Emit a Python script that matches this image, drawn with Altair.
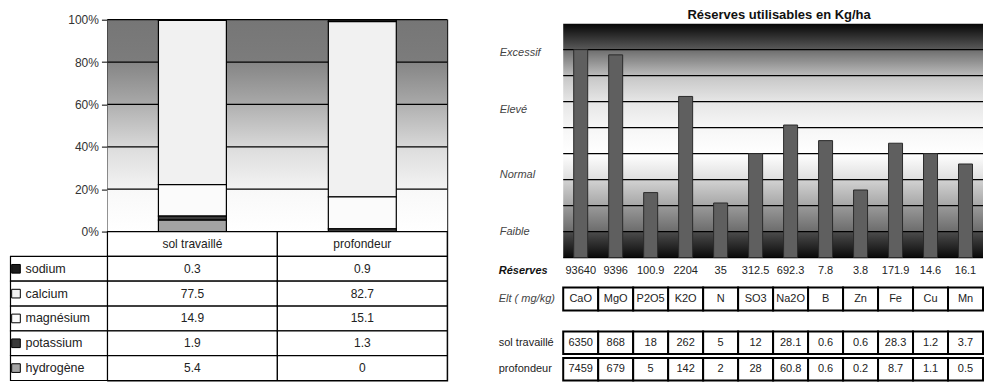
import altair as alt
import pandas as pd

FONT = "Liberation Sans"

# ---------------------------------------------------------------- data
# Base cation shares (% of the exchange complex) for the two horizons
samples = ["sol travaillé", "profondeur"]
cations = ["sodium", "calcium", "magnésium", "potassium", "hydrogène"]
sol_travaille = [0.3, 77.5, 14.9, 1.9, 5.4]
profondeur = [0.9, 82.7, 15.1, 1.3, 0]
pct_ticks = [0, 20, 40, 60, 80, 100]

# Usable reserves per element, with their rating level
elements = ["CaO", "MgO", "P2O5", "K2O", "N", "SO3", "Na2O", "B", "Zn", "Fe", "Cu", "Mn"]
reserves_kg_ha = [93640, 9396, 100.9, 2204, 35, 312.5, 692.3, 7.8, 3.8, 171.9, 14.6, 16.1]
reserve_level = [8.0, 7.8, 2.5, 6.2, 2.1, 4.0, 5.1, 4.5, 2.6, 4.4, 4.0, 3.6]
sol_mg_kg = [6350, 868, 18, 262, 5, 12, 28.1, 0.6, 0.6, 28.3, 1.2, 3.7]
prof_mg_kg = [7459, 679, 5, 142, 2, 28, 60.8, 0.6, 0.2, 8.7, 1.1, 0.5]
level_names = ["Faible", "Normal", "Elevé", "Excessif"]
level_marks = [1.0, 3.2, 5.7, 7.9]
level_grid = [0, 1, 2, 3, 4, 5, 6, 7, 8]
level_top = 9

# ---------------------------------------------------------------- styles
cation_colors = ["#1c1c1c", "#f1f1f1", "#fbfbfb", "#3a3a3a", "#a3a3a3"]
left_stops = [(0, "#767676"), (0.2, "#7c7c7c"), (0.2, "#858585"), (0.4, "#a9a9a9"),
              (0.4, "#b0b0b0"), (0.6, "#d8d8d8"), (0.6, "#dcdcdc"), (0.8, "#f3f3f3"),
              (0.8, "#f8f8f8"), (1, "#ffffff")]
right_stops = [(0, "#060606"), (0.111, "#5a5a5a"), (0.112, "#6e6e6e"), (0.222, "#bcbcbc"),
               (0.223, "#c6c6c6"), (0.333, "#e6e6e6"), (0.444, "#f6f6f6"), (0.556, "#ffffff"),
               (0.667, "#dedede"), (0.668, "#d2d2d2"), (0.778, "#a6a6a6"), (0.779, "#9a9a9a"),
               (0.889, "#6c6c6c"), (0.89, "#4c4c4c"), (1, "#0a0a0a")]


def vgrad(stops):
    return alt.LinearGradient(
        gradient="linear", x1=0, x2=0, y1=0, y2=1,
        stops=[alt.GradientStop(color=c, offset=o) for o, c in stops],
    )


# ---------------------------------------------------------------- layout
LEFT_W, LEFT_PLOT_H, LEFT_H = 340, 212, 361
COL_W = LEFT_W / len(samples)
LABEL_COL = 97 / COL_W          # width of the row-label column, in column units
SWATCH_X = -91.5 / COL_W
LABEL_X = -82 / COL_W

RIGHT_W, RIGHT_H = 420, 362
RIGHT_PLOT = [238, 4]
TOP_TAB = [237.5, 293.5]
BOT_TAB = [312, 361]

# ================================================================ left panel
left_long = pd.DataFrame([
    {"sample": s, "cation": c, "value": v, "stack": len(cations) - 1 - i}
    for s, vals in zip(samples, [sol_travaille, profondeur])
    for i, (c, v) in enumerate(zip(cations, vals))
])

y_pct = alt.Scale(domain=[0, 100], range=[LEFT_PLOT_H, 0])
cation_scale = alt.Scale(domain=cations, range=cation_colors)

left_bg = alt.Chart(pd.DataFrame({"lo": [0], "hi": [100]})).mark_rect(
    fill=vgrad(left_stops)
).encode(y=alt.Y("lo:Q", scale=y_pct, axis=None), y2="hi:Q")

left_grid = alt.Chart(pd.DataFrame({"p": pct_ticks[1:]})).mark_rule(
    color="black", strokeWidth=1.2
).encode(y=alt.Y("p:Q", scale=y_pct, axis=None))

left_bars = alt.Chart(left_long).mark_bar(stroke="black", strokeWidth=1.2).encode(
    x=alt.X("sample:N", sort=samples, axis=None,
            scale=alt.Scale(paddingInner=0.6, paddingOuter=0.3)),
    y=alt.Y("value:Q", stack="zero", scale=y_pct,
            axis=alt.Axis(values=pct_ticks, labelExpr="datum.value + '%'", orient="left",
                          title=None, grid=False, domainColor="black", tickColor="black",
                          tickSize=6, labelPadding=3, labelFont=FONT, labelFontSize=12,
                          labelColor="#333")),
    color=alt.Color("cation:N", scale=cation_scale, legend=None),
    order=alt.Order("stack:Q"),
)

head_key = " "
tab_rows = [head_key] + cations
tab_cells = pd.DataFrame(
    [{"row": head_key, "c0": j, "c1": j + 1, "txt": s} for j, s in enumerate(samples)]
    + [{"row": c, "c0": j, "c1": j + 1, "txt": f"{v:g}"}
       for j, vals in enumerate([sol_travaille, profondeur])
       for c, v in zip(cations, vals)]
)
label_cells = pd.DataFrame({"row": cations, "cation": cations})

y_tab = alt.Scale(domain=tab_rows, range=[LEFT_PLOT_H, LEFT_H], paddingInner=0, paddingOuter=0)
x_tab = alt.Scale(domain=[0, len(samples)], nice=False, zero=False)

tab_rect = alt.Chart(tab_cells).mark_rect(fill="white", stroke="black", strokeWidth=1.2).encode(
    x=alt.X("c0:Q", scale=x_tab, axis=None), x2="c1:Q",
    y=alt.Y("row:N", scale=y_tab, axis=None),
)
tab_text = alt.Chart(tab_cells).transform_calculate(cx="datum.c0 + 0.5").mark_text(
    fontSize=12, color="#222", font=FONT
).encode(
    x=alt.X("cx:Q", scale=x_tab, axis=None),
    y=alt.Y("row:N", scale=y_tab, axis=None),
    text="txt:N",
)
lab_rect = alt.Chart(label_cells).mark_rect(fill="white", stroke="black", strokeWidth=1.2).encode(
    x=alt.datum(-LABEL_COL), x2=alt.datum(0),
    y=alt.Y("row:N", scale=y_tab, axis=None),
)
lab_swatch = alt.Chart(label_cells).mark_square(size=75, stroke="black", strokeWidth=1, opacity=1).encode(
    x=alt.datum(SWATCH_X),
    y=alt.Y("row:N", scale=y_tab, axis=None),
    color=alt.Color("cation:N", scale=cation_scale, legend=None),
)
lab_text = alt.Chart(label_cells).mark_text(
    align="left", baseline="middle", fontSize=12.5, color="#222", font=FONT
).encode(
    x=alt.datum(LABEL_X),
    y=alt.Y("row:N", scale=y_tab, axis=None),
    text="cation:N",
)

left = alt.layer(
    alt.layer(left_bg, left_grid, left_bars).resolve_axis(y="independent"),
    alt.layer(tab_rect, tab_text, lab_rect, lab_swatch, lab_text),
).resolve_scale(x="independent", y="independent").properties(
    width=LEFT_W, height=LEFT_H,
    view=alt.ViewBackground(stroke="black", strokeWidth=1.2),
)

# ================================================================ right panel
right_df = pd.DataFrame({"el": elements, "level": reserve_level})
y_lvl = alt.Scale(domain=[0, level_top], range=RIGHT_PLOT)
x_el = alt.Scale(domain=elements, paddingInner=0.6, paddingOuter=0.3)

level_lookup = "{" + ",".join(f"'{p:g}':'{n}'" for p, n in zip(level_marks, level_names)) + "}[datum.value]"

right_bg = alt.Chart(pd.DataFrame({"lo": [0], "hi": [level_top]})).mark_rect(
    fill=vgrad(right_stops)
).encode(y=alt.Y("lo:Q", scale=y_lvl, axis=None), y2="hi:Q")

right_grid = alt.Chart(pd.DataFrame({"g": level_grid})).mark_rule(
    color="black", strokeWidth=1.2
).encode(y=alt.Y("g:Q", scale=y_lvl, axis=None))

right_bars = alt.Chart(right_df).mark_bar(fill="#5f5f5f", stroke="#2a2a2a", strokeWidth=1).encode(
    x=alt.X("el:N", sort=elements, scale=x_el, axis=None),
    y=alt.Y("level:Q", scale=y_lvl,
            axis=alt.Axis(values=level_marks, labelExpr=level_lookup, orient="left", title=None,
                          domain=False, ticks=False, grid=False, labelAlign="left",
                          labelPadding=64, labelFont=FONT, labelFontSize=11,
                          labelFontStyle="italic", labelColor="#444")),
)

top_rows = ["Réserves", "Elt ( mg/kg)"]
top_df = pd.DataFrame(
    [{"el": e, "row": top_rows[0], "txt": f"{v:g}"} for e, v in zip(elements, reserves_kg_ha)]
    + [{"el": e, "row": top_rows[1], "txt": e} for e in elements]
)
x_cell = alt.Scale(domain=elements, paddingInner=0, paddingOuter=0)
y_top = alt.Scale(domain=top_rows, range=TOP_TAB, paddingInner=0.18, paddingOuter=0.09)

top_rect = alt.Chart(top_df).transform_filter(
    alt.datum.row == top_rows[1]
).mark_rect(fill="white", stroke="black", strokeWidth=2).encode(
    x=alt.X("el:N", sort=elements, scale=x_cell, axis=None),
    y=alt.Y("row:N", scale=y_top, axis=None),
)
top_text = alt.Chart(top_df).mark_text(fontSize=11, color="#222", font=FONT).encode(
    x=alt.X("el:N", sort=elements, scale=x_cell, axis=None),
    y=alt.Y("row:N", scale=y_top,
            axis=alt.Axis(orient="left", title=None, domain=False, ticks=False, grid=False,
                          labelAlign="left", labelPadding=65, labelFont=FONT, labelFontSize=11,
                          labelFontStyle="italic",
                          labelFontWeight={"condition": {"test": f"datum.value === '{top_rows[0]}'",
                                                         "value": "bold"}, "value": "normal"},
                          labelColor={"condition": {"test": f"datum.value === '{top_rows[0]}'",
                                                    "value": "#111"}, "value": "#444"})),
    text="txt:N",
)

bot_df = pd.DataFrame(
    [{"el": e, "row": samples[0], "txt": f"{v:g}"} for e, v in zip(elements, sol_mg_kg)]
    + [{"el": e, "row": samples[1], "txt": f"{v:g}"} for e, v in zip(elements, prof_mg_kg)]
)
y_bot = alt.Scale(domain=samples, range=BOT_TAB, paddingInner=0.15, paddingOuter=0)

bot_rect = alt.Chart(bot_df).mark_rect(fill="white", stroke="black", strokeWidth=2).encode(
    x=alt.X("el:N", sort=elements, scale=x_cell, axis=None),
    y=alt.Y("row:N", scale=y_bot, axis=None),
)
bot_text = alt.Chart(bot_df).mark_text(fontSize=11, color="#222", font=FONT).encode(
    x=alt.X("el:N", sort=elements, scale=x_cell, axis=None),
    y=alt.Y("row:N", scale=y_bot,
            axis=alt.Axis(orient="left", title=None, domain=False, ticks=False, grid=False,
                          labelAlign="left", labelPadding=65, labelFont=FONT, labelFontSize=11,
                          labelColor="#222")),
    text="txt:N",
)

right = alt.layer(
    alt.layer(right_bg, right_grid, right_bars).resolve_axis(y="independent"),
    alt.layer(top_rect, top_text).resolve_axis(y="independent"),
    alt.layer(bot_rect, bot_text).resolve_axis(y="independent"),
).resolve_scale(x="independent", y="independent").properties(
    width=RIGHT_W, height=RIGHT_H,
    title=alt.Title("Réserves utilisables en Kg/ha", font=FONT, fontSize=13, fontWeight="bold",
                    color="#111", anchor="middle", baseline="alphabetic", offset=-12, dx=6),
)

chart = alt.hconcat(left, right, spacing=116, bounds="flush").properties(
    padding={"left": 8.5, "top": 8.6, "right": 0, "bottom": 0},
    background="white",
).configure(font=FONT).configure_view(stroke=None)

chart.save("out.html", embed_options={"renderer": "svg", "actions": False})
